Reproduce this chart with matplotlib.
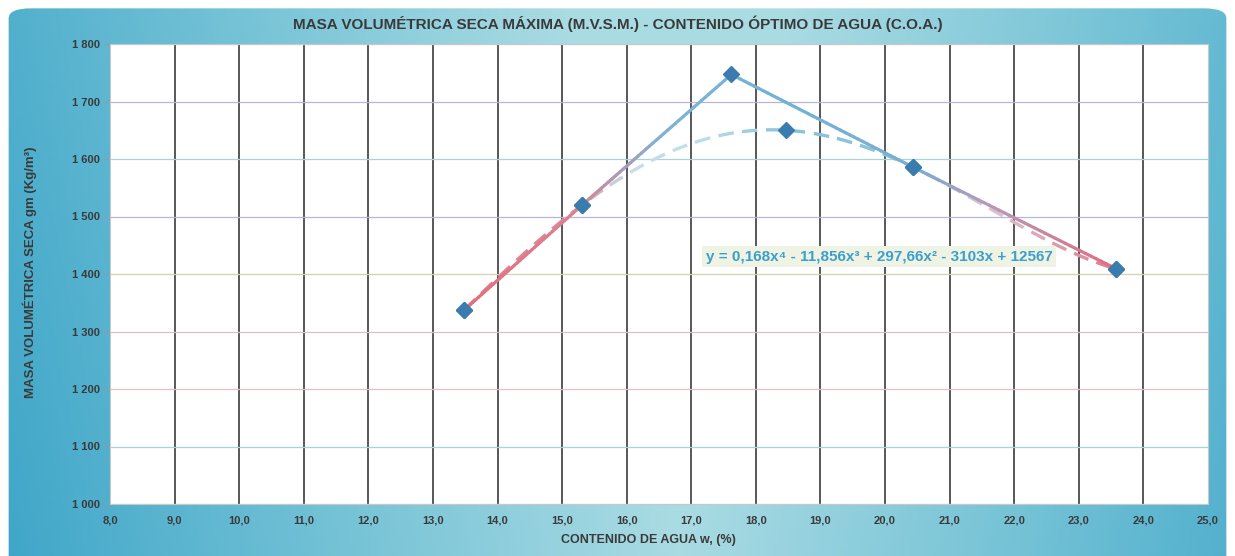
import numpy as np
import matplotlib
matplotlib.use("Agg")
import matplotlib.pyplot as plt
from matplotlib.patches import FancyBboxPatch
from matplotlib.collections import LineCollection
from matplotlib.colors import LinearSegmentedColormap
from matplotlib.ticker import FuncFormatter

# Data
# series joined by the solid line
linea_x = [13.48, 15.31, 17.62, 20.43, 23.58]
linea_y = [1337, 1520, 1747, 1586, 1409]
# series used for the order-4 trendline (dashed)
tendencia_x = [13.48, 15.31, 18.47, 20.43, 23.58]
tendencia_y = [1337, 1520, 1650, 1586, 1409]
ecuacion = "y = 0,168x⁴ - 11,856x³ + 297,66x² - 3103x + 12567"

x_ticks = np.arange(8, 26, 1)
y_ticks = np.arange(1000, 1801, 100)
h_grid_colors = ["#c8d2c0", "#a5d6d6", "#e6c0c6", "#e2bcc2", "#d6cfb0",
                 "#b6b6dc", "#a8d6d6", "#bdb3d8", "#c8c8c8"]

TXT = "#3a3a3a"
plt.rcParams["font.family"] = ["Liberation Sans", "DejaVu Sans"]

fig = plt.figure(figsize=(12.35, 5.56), dpi=100)
fig.patch.set_facecolor("white")

# background panel: gradient clipped to a rounded box
bg = fig.add_axes([0, 0, 1, 1])
bg.set_xlim(0, 1)
bg.set_ylim(0, 1)
bg.axis("off")
GX, GY = np.meshgrid(np.linspace(0, 1, 300), np.linspace(0, 1, 100))
val = np.clip(1 - np.abs(GX - 0.55) * 1.6 + 0.15 * GY, 0, 1)
cmap_bg = LinearSegmentedColormap.from_list("bg", ["#3fa6c9", "#74c2d6", "#a9dbe3"])
im = bg.imshow(val, extent=[0, 1, 0, 1], origin="lower", cmap=cmap_bg,
               aspect="auto", zorder=0)
panel = FancyBboxPatch((0.007, -0.05), 0.986, 1.035,
                       boxstyle="round,pad=0,rounding_size=0.018",
                       transform=bg.transAxes, facecolor="none", edgecolor="none")
bg.add_patch(panel)
im.set_clip_path(panel)

ax = fig.add_axes([110 / 1235, 52 / 556, 1098 / 1235, 460 / 556])
ax.set_facecolor("white")
ax.set_xlim(8, 25)
ax.set_ylim(1000, 1800)
for s in ax.spines.values():
    s.set_color("#c8c8c8")
    s.set_linewidth(0.8)

for xv in x_ticks[1:-1]:
    ax.axvline(xv, color="#2a2a2a", lw=1.1, zorder=1)
for yv, c in zip(y_ticks, h_grid_colors):
    ax.axhline(yv, color=c, lw=0.9, zorder=1)

ax.set_xticks(x_ticks)
ax.set_yticks(y_ticks)
ax.xaxis.set_major_formatter(FuncFormatter(lambda v, p: f"{v:.1f}".replace(".", ",")))
ax.yaxis.set_major_formatter(FuncFormatter(lambda v, p: f"{int(v):,}".replace(",", " ")))
ax.tick_params(axis="both", length=4, color="#999999", labelsize=8, labelcolor=TXT, pad=3)
ax.tick_params(axis="x", length=0, pad=8)
for lab in ax.get_xticklabels() + ax.get_yticklabels():
    lab.set_fontweight("bold")

cmap_line = LinearSegmentedColormap.from_list(
    "ln", [(0, "#e06f80"), (0.17, "#da8294"), (0.3, "#7fb3d5"), (0.5, "#72b2d4"),
           (0.7, "#7aaed0"), (0.8, "#b79ab8"), (1, "#e06f80")])
cmap_trend = LinearSegmentedColormap.from_list(
    "tr", [(0, "#e27d8c"), (0.15, "#e08a98"), (0.25, "#c8dde6"), (0.35, "#bfe0ea"),
           (0.5, "#86c3dc"), (0.7, "#8cc4dc"), (0.8, "#d6c6d6"), (1, "#e27d8c")])
x0, x1 = linea_x[0], linea_x[-1]

# solid line: each segment cut into short pieces so the colour can fade along it
pts = []
for i in range(len(linea_x) - 1):
    t = np.linspace(0, 1, 40, endpoint=False)
    pts.append(np.column_stack([linea_x[i] + (linea_x[i + 1] - linea_x[i]) * t,
                                linea_y[i] + (linea_y[i + 1] - linea_y[i]) * t]))
pts.append(np.array([[linea_x[-1], linea_y[-1]]]))
pts = np.vstack(pts)
segs = np.stack([pts[:-1], pts[1:]], axis=1)
ax.add_collection(LineCollection(segs, colors=cmap_line((pts[:-1, 0] - x0) / (x1 - x0)),
                                 linewidths=2.3, zorder=3, capstyle="round"))

# polynomial trendline (order 4) through the trend series, dashed
coef = np.polyfit(tendencia_x, tendencia_y, 4)
xt = np.linspace(tendencia_x[0], tendencia_x[-1], 1500)
yt = np.polyval(coef, xt)
disp = ax.transData.transform(np.column_stack([xt, yt]))
arc = np.concatenate([[0], np.cumsum(np.hypot(*np.diff(disp, axis=0).T))])
on_len, off_len = 16.0, 8.0
phase = arc % (on_len + off_len)
dash_id = (arc // (on_len + off_len)).astype(int)
dashes, dash_cols = [], []
for d in np.unique(dash_id):
    sel = (dash_id == d) & (phase < on_len)
    if sel.sum() < 2:
        continue
    dashes.append(np.column_stack([xt[sel], yt[sel]]))
    dash_cols.append(cmap_trend((xt[sel].mean() - x0) / (x1 - x0)))
ax.add_collection(LineCollection(dashes, colors=dash_cols, linewidths=2.4, zorder=2))

ax.plot(linea_x, linea_y, ls="none", marker="D", ms=8, color="#3a7cae", zorder=5)
ax.plot(tendencia_x, tendencia_y, ls="none", marker="D", ms=8, color="#3a7cae", zorder=5)

ax.text(0.5425, 0.538, ecuacion, transform=ax.transAxes, fontsize=11,
        fontweight="bold", color="#3c9fcc", va="center", ha="left",
        bbox=dict(boxstyle="square,pad=0.25", facecolor="#eef3e4", edgecolor="none"),
        zorder=6)

fig.text(0.5, 0.957, "MASA VOLUMÉTRICA SECA MÁXIMA (M.V.S.M.) - CONTENIDO ÓPTIMO DE AGUA (C.O.A.)",
         ha="center", va="center", fontsize=11, fontweight="bold", color=TXT)
fig.text(648 / 1235, 1 - 540 / 556, "CONTENIDO DE AGUA w, (%)", ha="center", va="center",
         fontsize=9, fontweight="bold", color=TXT)
fig.text(30 / 1235, 1 - 272 / 556, "MASA VOLUMÉTRICA SECA gm (Kg/m³)", ha="center",
         va="center", rotation=90, fontsize=9.5, fontweight="bold", color=TXT)

fig.savefig("out.png", dpi=100)
